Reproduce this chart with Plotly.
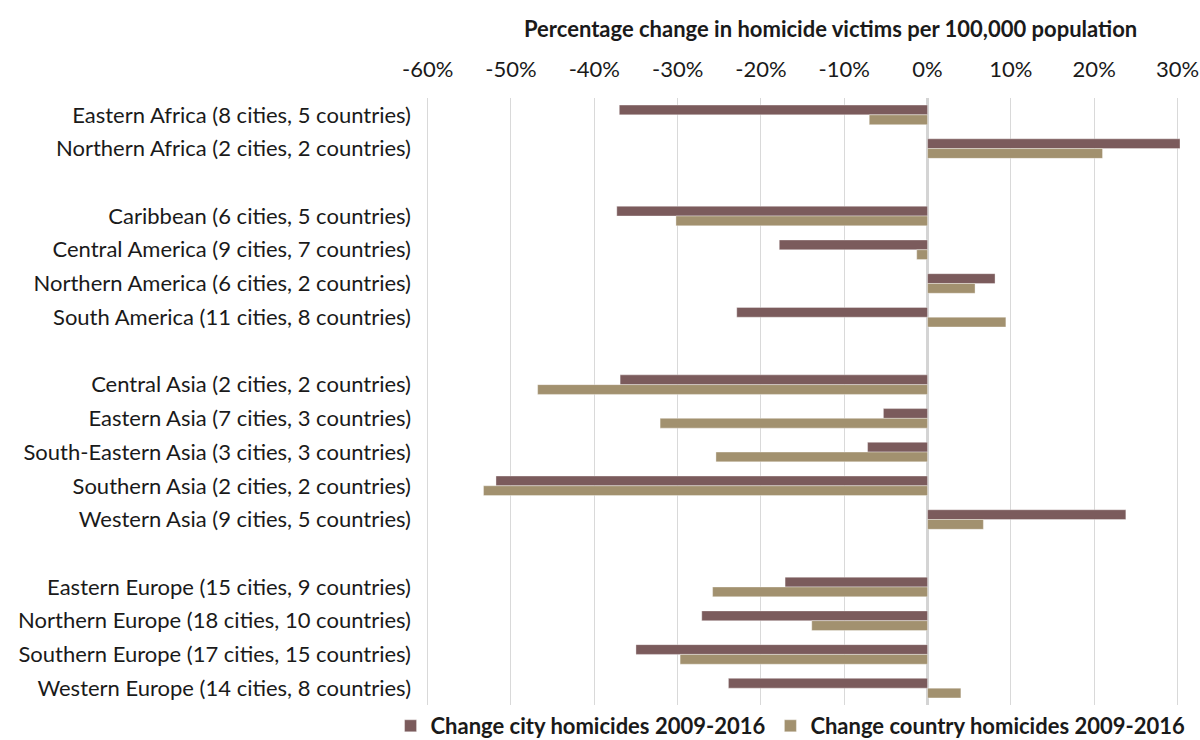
import plotly.graph_objects as go

categories = [
    "Eastern Africa (8 cities, 5 countries)",
    "Northern Africa (2 cities, 2 countries)",
    " ",
    "Caribbean (6 cities, 5 countries)",
    "Central America (9 cities, 7 countries)",
    "Northern America (6 cities, 2 countries)",
    "South America (11 cities, 8 countries)",
    "  ",
    "Central Asia (2 cities, 2 countries)",
    "Eastern Asia (7 cities, 3 countries)",
    "South-Eastern Asia (3 cities, 3 countries)",
    "Southern Asia (2 cities, 2 countries)",
    "Western Asia (9 cities, 5 countries)",
    "   ",
    "Eastern Europe (15 cities, 9 countries)",
    "Northern Europe (18 cities, 10 countries)",
    "Southern Europe (17 cities, 15 countries)",
    "Western Europe (14 cities, 8 countries)",
]

city_change = [-37.0, 30.3, None, -37.3, -17.8, 8.1, -22.9, None,
               -36.9, -5.3, -7.2, -51.8, 23.8, None,
               -17.1, -27.1, -35.0, -23.9]
country_change = [-7.0, 21.0, None, -30.2, -1.3, 5.7, 9.4, None,
                  -46.8, -32.1, -25.4, -53.3, 6.7, None,
                  -25.8, -13.9, -29.7, 4.0]

series_names = ["Change city homicides 2009-2016", "Change country homicides 2009-2016"]
series_colors = ["#7B5B5C", "#A2916F"]

tick_vals = [-60, -50, -40, -30, -20, -10, 0, 10, 20, 30]
tick_text = ["-60%", "-50%", "-40%", "-30%", "-20%", "-10%", "0%", "10%", "20%", "30%"]

axis_title = "Percentage change in homicide victims per 100,000 population"

FONT = "Lato"
FS = 22
TXT = "#1a1a1a"

fig = go.Figure()
for name, vals, col in zip(series_names, [city_change, country_change], series_colors):
    fig.add_trace(go.Bar(
        y=categories, x=vals, name=name, orientation="h",
        marker=dict(color=col, line=dict(width=0.6, color="rgba(255,255,255,0.6)")),
    ))

fig.update_layout(
    width=1200, height=740,
    margin=dict(l=426, r=20, t=98, b=35, autoexpand=False),
    paper_bgcolor="white", plot_bgcolor="white",
    barmode="group", bargap=0.42, bargroupgap=0,
    font=dict(family=FONT, size=FS, color=TXT),
    showlegend=True,
    legend=dict(orientation="h", xref="paper", x=-0.047, xanchor="left",
                yref="paper", y=0, yanchor="top",
                font=dict(family=FONT, size=FS, color=TXT, weight="bold"),
                itemwidth=30, tracegroupgap=0, traceorder="normal"),
    xaxis=dict(
        side="top", range=[-60.2, 30.3], tickvals=tick_vals, ticktext=tick_text,
        showgrid=True, gridcolor="#d9d9d9", gridwidth=1,
        zeroline=True, zerolinecolor="#d4d4d4", zerolinewidth=3,
        showline=False, ticks="", tickfont=dict(size=FS, color=TXT),
        ticklabelstandoff=16, automargin=False,
    ),
    yaxis=dict(
        categoryorder="array", categoryarray=categories, autorange="reversed",
        showgrid=False, zeroline=False, showline=False, ticks="",
        tickfont=dict(size=FS, color=TXT), ticklabelstandoff=14, automargin=False,
    ),
    annotations=[dict(
        text="<b>" + axis_title + "</b>", xref="paper", yref="paper",
        x=(831 - 426) / 754.5, y=1, yshift=70, xanchor="center", yanchor="middle",
        showarrow=False, font=dict(family=FONT, size=FS, color=TXT),
    )],
)

fig.write_html("out.html", config={"displayModeBar": False},
               post_script="document.body.style.margin='0';")
